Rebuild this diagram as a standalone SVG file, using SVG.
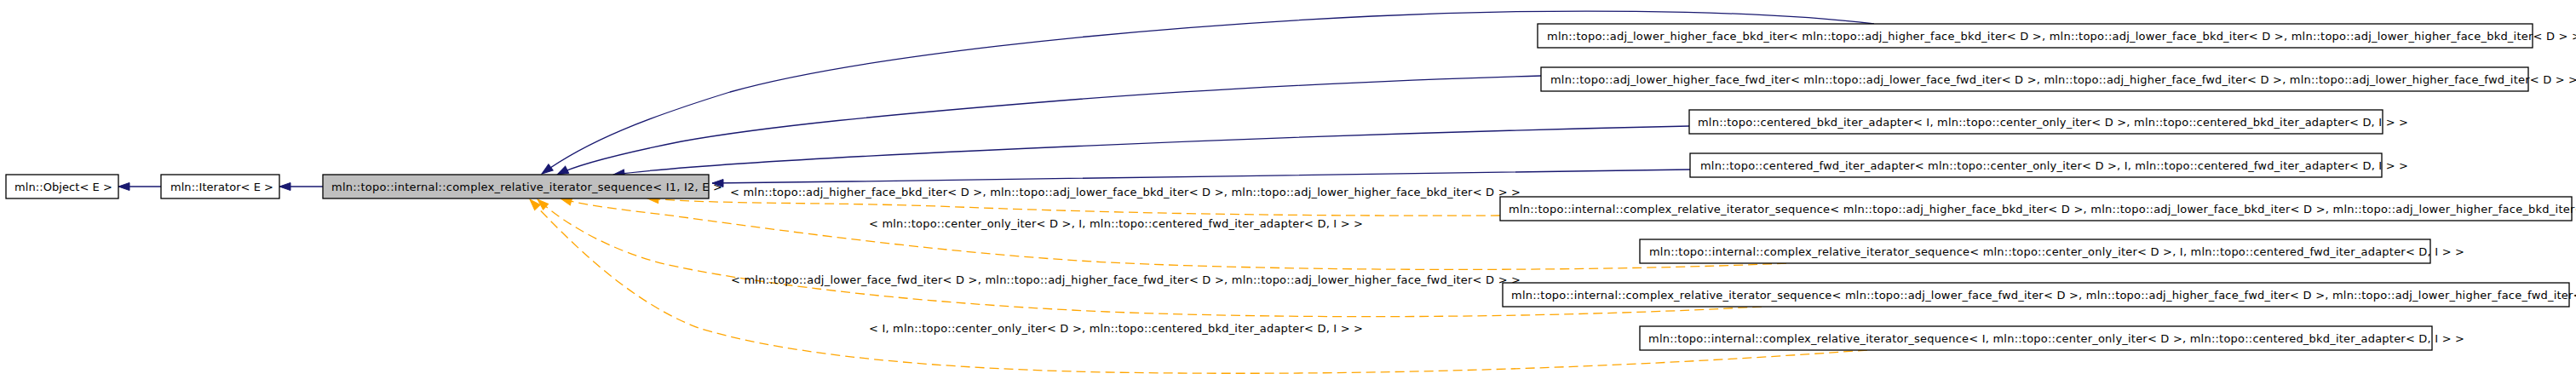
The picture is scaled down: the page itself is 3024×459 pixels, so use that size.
<svg xmlns="http://www.w3.org/2000/svg" width="3024" height="459" viewBox="0 0 3024 459">
<style>
.box{fill:#ffffff;stroke:#000000;stroke-width:1.3}
.main{fill:#bfbfbf;stroke:#000000;stroke-width:1.3}
text{font-family:"DejaVu Sans","Liberation Sans",sans-serif;font-size:13px;fill:#000000}
.inh{fill:none;stroke:#191970;stroke-width:1.3}
.tpl{fill:none;stroke:#ffa500;stroke-width:1.3;stroke-dasharray:11,6}
</style>
<defs>
<marker id="ab" markerUnits="userSpaceOnUse" viewBox="0 0 15 11" refX="14" refY="5.5" markerWidth="15" markerHeight="11" orient="auto">
<path d="M1,1 L14,5.5 L1,10 z" fill="#191970" stroke="#191970" stroke-width="1"/>
</marker>
<marker id="ao" markerUnits="userSpaceOnUse" viewBox="0 0 15 11" refX="14" refY="5.5" markerWidth="15" markerHeight="11" orient="auto">
<path d="M1,1 L14,5.5 L1,10 z" fill="#ffa500" stroke="#ffa500" stroke-width="1"/>
</marker>
</defs>
<rect width="3024" height="459" fill="#ffffff"/>
<g id="edges">
<path class="inh" d="M189,219 L139,219" marker-end="url(#ab)"/>
<path class="inh" d="M379,219 L328,219" marker-end="url(#ab)"/>
<path class="inh" d="M2200,28 C2050,10 1800,10 1611,19 C1300,34 1000,68 857,108 C760,138 690,165 636,204" marker-end="url(#ab)"/>
<path class="inh" d="M1809,89 C1650,93 1400,105 1222,120 C1050,134 900,148 800,166 C730,180 680,192 654,205" marker-end="url(#ab)"/>
<path class="inh" d="M1983,148 C1700,154 1400,165 1145,177 C950,186 800,195 720,205" marker-end="url(#ab)"/>
<path class="inh" d="M1984,199 C1700,202 1300,210 1000,213 C920,214 870,215 836,215" marker-end="url(#ab)"/>
<path class="tpl" d="M1761,253 C1500,254 1300,250 1100,242 C950,237 850,240 760,233" marker-end="url(#ao)"/>
<path class="tpl" d="M2097,309 C1900,318 1550,320 1300,308 C1100,297 900,268 780,252 C730,246 690,242 658,233" marker-end="url(#ao)"/>
<path class="tpl" d="M2068,360 C1850,372 1550,376 1300,366 C1050,355 870,330 780,310 C720,295 665,265 631,234" marker-end="url(#ao)"/>
<path class="tpl" d="M2192,411 C1900,432 1600,442 1300,437 C1050,432 900,410 820,385 C740,355 670,285 622,234" marker-end="url(#ao)"/>
<text x="857" y="230" textLength="928" lengthAdjust="spacing">&lt; mln::topo::adj_higher_face_bkd_iter&lt; D &gt;, mln::topo::adj_lower_face_bkd_iter&lt; D &gt;, mln::topo::adj_lower_higher_face_bkd_iter&lt; D &gt; &gt;</text>
<text x="1020" y="267" textLength="580" lengthAdjust="spacing">&lt; mln::topo::center_only_iter&lt; D &gt;, I, mln::topo::centered_fwd_iter_adapter&lt; D, I &gt; &gt;</text>
<text x="858" y="333" textLength="927" lengthAdjust="spacing">&lt; mln::topo::adj_lower_face_fwd_iter&lt; D &gt;, mln::topo::adj_higher_face_fwd_iter&lt; D &gt;, mln::topo::adj_lower_higher_face_fwd_iter&lt; D &gt; &gt;</text>
<text x="1020" y="390" textLength="580" lengthAdjust="spacing">&lt; I, mln::topo::center_only_iter&lt; D &gt;, mln::topo::centered_bkd_iter_adapter&lt; D, I &gt; &gt;</text>
</g>
<g id="node-object">
<rect class="box" x="7" y="205" width="132" height="28"/>
<text x="17" y="223.5" textLength="115" lengthAdjust="spacing">mln::Object&lt; E &gt;</text>
</g>
<g id="node-iterator">
<rect class="box" x="189" y="205" width="139" height="28"/>
<text x="200" y="223.5" textLength="121" lengthAdjust="spacing">mln::Iterator&lt; E &gt;</text>
</g>
<g id="node-main">
<rect class="main" x="379" y="205" width="453" height="28"/>
<text x="389" y="223.5" textLength="459" lengthAdjust="spacing">mln::topo::internal::complex_relative_iterator_sequence&lt; I1, I2, E &gt;</text>
</g>
<g id="node-n1">
<rect class="box" x="1805" y="28" width="1168" height="28"/>
<text x="1816" y="46.5" textLength="1214" lengthAdjust="spacing">mln::topo::adj_lower_higher_face_bkd_iter&lt; mln::topo::adj_higher_face_bkd_iter&lt; D &gt;, mln::topo::adj_lower_face_bkd_iter&lt; D &gt;, mln::topo::adj_lower_higher_face_bkd_iter&lt; D &gt; &gt;</text>
</g>
<g id="node-n2">
<rect class="box" x="1809" y="79" width="1159" height="28"/>
<text x="1820" y="97.5" textLength="1206" lengthAdjust="spacing">mln::topo::adj_lower_higher_face_fwd_iter&lt; mln::topo::adj_lower_face_fwd_iter&lt; D &gt;, mln::topo::adj_higher_face_fwd_iter&lt; D &gt;, mln::topo::adj_lower_higher_face_fwd_iter&lt; D &gt; &gt;</text>
</g>
<g id="node-n3">
<rect class="box" x="1983" y="129" width="814" height="28"/>
<text x="1993" y="147.5" textLength="834" lengthAdjust="spacing">mln::topo::centered_bkd_iter_adapter&lt; I, mln::topo::center_only_iter&lt; D &gt;, mln::topo::centered_bkd_iter_adapter&lt; D, I &gt; &gt;</text>
</g>
<g id="node-n4">
<rect class="box" x="1984" y="180" width="812" height="28"/>
<text x="1996" y="198.5" textLength="831" lengthAdjust="spacing">mln::topo::centered_fwd_iter_adapter&lt; mln::topo::center_only_iter&lt; D &gt;, I, mln::topo::centered_fwd_iter_adapter&lt; D, I &gt; &gt;</text>
</g>
<g id="node-n5">
<rect class="box" x="1761" y="231" width="1258" height="28"/>
<text x="1771" y="249.5" textLength="1308" lengthAdjust="spacing">mln::topo::internal::complex_relative_iterator_sequence&lt; mln::topo::adj_higher_face_bkd_iter&lt; D &gt;, mln::topo::adj_lower_face_bkd_iter&lt; D &gt;, mln::topo::adj_lower_higher_face_bkd_iter&lt; D &gt; &gt;</text>
</g>
<g id="node-n6">
<rect class="box" x="1925" y="281" width="928" height="28"/>
<text x="1936" y="299.5" textLength="957" lengthAdjust="spacing">mln::topo::internal::complex_relative_iterator_sequence&lt; mln::topo::center_only_iter&lt; D &gt;, I, mln::topo::centered_fwd_iter_adapter&lt; D, I &gt; &gt;</text>
</g>
<g id="node-n7">
<rect class="box" x="1764" y="332" width="1252" height="28"/>
<text x="1774" y="350.5" textLength="1303" lengthAdjust="spacing">mln::topo::internal::complex_relative_iterator_sequence&lt; mln::topo::adj_lower_face_fwd_iter&lt; D &gt;, mln::topo::adj_higher_face_fwd_iter&lt; D &gt;, mln::topo::adj_lower_higher_face_fwd_iter&lt; D &gt; &gt;</text>
</g>
<g id="node-n8">
<rect class="box" x="1925" y="383" width="930" height="28"/>
<text x="1935" y="401.5" textLength="958" lengthAdjust="spacing">mln::topo::internal::complex_relative_iterator_sequence&lt; I, mln::topo::center_only_iter&lt; D &gt;, mln::topo::centered_bkd_iter_adapter&lt; D, I &gt; &gt;</text>
</g>
</svg>
